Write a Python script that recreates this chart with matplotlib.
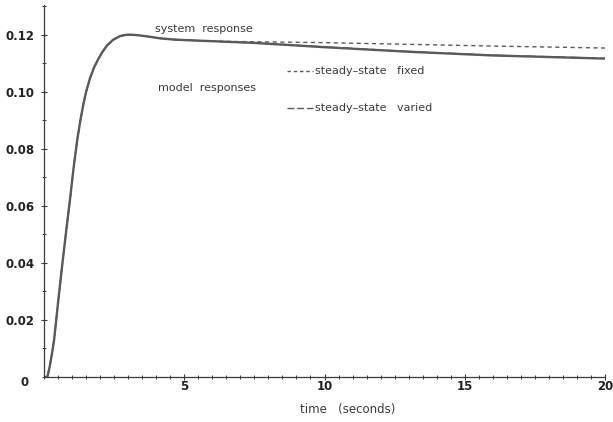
import matplotlib
matplotlib.use("Agg")
import matplotlib.pyplot as plt
from matplotlib.ticker import MultipleLocator

# Shared rise (all three curves coincide)
t_rise = [0.0, 0.12, 0.2, 0.28, 0.36, 0.5, 0.65, 0.8, 0.93, 1.05, 1.19, 1.3, 1.40, 1.5,
          1.64, 1.78, 1.94, 2.08, 2.24, 2.45, 2.71, 2.9, 3.07, 3.35, 3.67, 4.14, 4.6, 5.0, 6.0]
v_rise = [0.0, 0.0, 0.0035, 0.008, 0.013, 0.026, 0.0393, 0.052, 0.0625, 0.0730, 0.0835,
          0.0902, 0.0955, 0.1000, 0.1048, 0.1085, 0.1116, 0.1140, 0.1162, 0.1182, 0.1196,
          0.1200, 0.1201, 0.1199, 0.1195, 0.1188, 0.1184, 0.1182, 0.1178]

# Tail: steady-state fixed model (upper, dashed)
t_fixed_tail = [7.5, 10.0, 13.0, 16.0, 20.0]
v_fixed_tail = [0.1176, 0.1173, 0.1167, 0.1161, 0.1154]

# Tail: system response and steady-state varied model (lower)
t_sys_tail = [7.5, 10.0, 13.0, 16.0, 20.0]
v_sys_tail = [0.1172, 0.1157, 0.1141, 0.1128, 0.1117]
v_var_tail = [0.1172, 0.1158, 0.1142, 0.1129, 0.1118]

x_major = [5, 10, 15, 20]
x_major_labels = ["5", "10", "15", "20"]
y_major = [0.02, 0.04, 0.06, 0.08, 0.10, 0.12]
y_major_labels = ["0.02", "0.04", "0.06", "0.08", "0.10", "0.12"]

t_fixed = t_rise + t_fixed_tail
v_fixed = v_rise + v_fixed_tail
t_sys = t_rise + t_sys_tail
v_sys = v_rise + v_sys_tail
v_var = v_rise + v_var_tail

ink = "#3a3a3a"
linec = "#5a5a5a"

fig = plt.figure(figsize=(6.13, 4.22), dpi=100)
ax = fig.add_axes([44/613, 45/422, 561/613, 372/422])
ax.set_xlim(0, 20)
ax.set_ylim(0, 0.1305)

ax.plot(t_sys, v_sys, color=linec, lw=1.7, solid_capstyle="round", solid_joinstyle="round")
ax.plot(t_sys, v_var, color=linec, lw=1.0, dashes=(8, 3))
ax.plot(t_fixed, v_fixed, color=linec, lw=1.0, dashes=(3, 2.5))

for s in ["top", "right"]:
    ax.spines[s].set_visible(False)
for s in ["left", "bottom"]:
    ax.spines[s].set_color(ink)
    ax.spines[s].set_linewidth(0.9)

ax.set_xticks(x_major)
ax.set_xticklabels(x_major_labels)
ax.set_yticks(y_major)
ax.set_yticklabels(y_major_labels)
ax.xaxis.set_minor_locator(MultipleLocator(0.5))
ax.yaxis.set_minor_locator(MultipleLocator(0.01))
ax.tick_params(axis="both", which="both", direction="inout", color=ink,
               labelsize=8.5, labelcolor="#222222")
ax.tick_params(axis="both", which="major", length=4, width=0.8)
ax.tick_params(axis="both", which="minor", length=3, width=0.7)
ax.tick_params(axis="x", pad=0)
ax.tick_params(axis="y", pad=5)
for lab in ax.get_xticklabels() + ax.get_yticklabels():
    lab.set_fontweight("semibold")

# origin label
ax.text(-0.68, 0.0005, "0", ha="center", va="top", fontsize=8.5, fontweight="semibold",
        color="#222222")

fs = 8
ax.text(3.96, 0.1221, "system  response", fontsize=fs, color=ink, va="center")
ax.text(4.07, 0.1014, "model  responses", fontsize=fs, color=ink, va="center")

ax.plot([8.68, 9.6], [0.1074, 0.1074], color=linec, lw=1.0, dashes=(2.5, 2))
ax.text(9.65, 0.1074, "steady\u2013state   fixed", fontsize=fs, color=ink, va="center")
ax.plot([8.68, 9.6], [0.0944, 0.0944], color=linec, lw=1.0, dashes=(5, 2))
ax.text(9.65, 0.0944, "steady\u2013state   varied", fontsize=fs, color=ink, va="center")

fig.text(348/613, 1 - 410/422, "time   (seconds)", fontsize=8.5, color=ink,
         ha="center", va="center")

fig.savefig("out.png", dpi=100)
